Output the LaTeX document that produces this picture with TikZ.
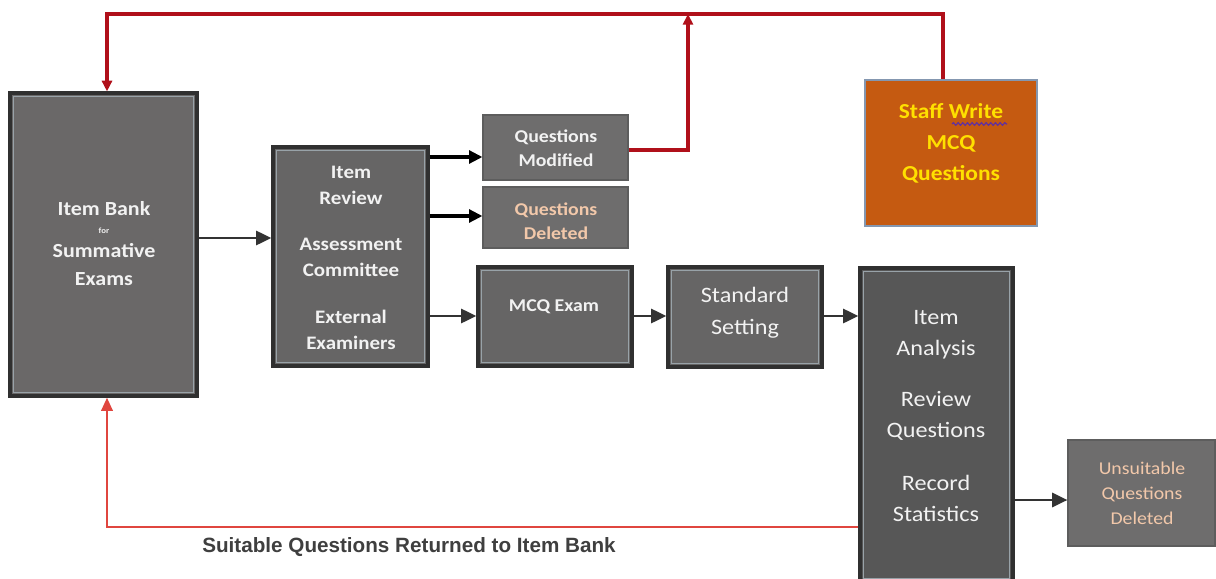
\documentclass[tikz,border=0pt]{standalone}
\usepackage{fontspec}
\setmainfont[FakeStretch=1.1]{Carlito}
\newfontfamily\arialb[BoldFont={Liberation Sans Bold}]{Liberation Sans}
\usetikzlibrary{arrows.meta,decorations.pathmorphing}
\definecolor{bdark}{HTML}{303030}
\definecolor{binner}{HTML}{98A2A8}
\definecolor{gfill}{HTML}{6A6868}
\definecolor{gfillb}{HTML}{666565}
\definecolor{gfilld}{HTML}{575757}
\definecolor{qfill}{HTML}{6E6D6D}
\definecolor{orangef}{HTML}{C55A11}
\definecolor{orangeb}{HTML}{8497B0}
\definecolor{ytext}{HTML}{FFE000}
\definecolor{wtext}{HTML}{F2F2F2}
\definecolor{ptext}{HTML}{F2C8AA}
\definecolor{redd}{HTML}{B0101A}
\definecolor{redl}{HTML}{E0463F}
\definecolor{arrg}{HTML}{333333}
\definecolor{labg}{HTML}{3F3F3F}
\definecolor{wavy}{HTML}{6030A0}
\newcommand\fsz[2]{\fontsize{#1}{#2}\selectfont}
\tikzset{
  gbox/.style={draw=bdark, line width=2.4pt, fill=#1, inner sep=0pt},
  qbox/.style={draw=qfill!85!black, line width=0.8pt, fill=qfill, inner sep=0pt},
  sbox/.style={draw=orangeb, line width=1.8pt, fill=orangef, inner sep=0pt},
  innerln/.style={draw=binner, line width=0.8pt},
  txt/.style={text=wtext, align=center, inner sep=0pt},
  blkarrow/.style={draw=black, line width=3pt, -{Triangle[length=10pt,width=9.5pt]}},
  gryarrow/.style={draw=arrg, line width=2.2pt, -{Triangle[length=11.5pt,width=10.5pt]}},
  redarrow/.style={draw=redd, line width=2.6pt, -{Triangle[length=8pt,width=7.5pt]}},
  lredarrow/.style={draw=redl, line width=2pt, -{Triangle[length=10pt,width=8.5pt]}},
}
\begin{document}
\begin{tikzpicture}[x=0.75pt,y=-0.75pt]
\useasboundingbox[fill=white] (0,0) rectangle (1216,578);
\begin{scope}
\clip (0,0) rectangle (1216,578);
% boxes
\node[gbox=gfill, minimum width=140.25pt, minimum height=227.25pt] (ib) at (103.5,244.5) {};
\node[gbox=gfillb, minimum width=116.25pt, minimum height=164.25pt] (ir) at (350.5,256.5) {};
\node[qbox, minimum width=108.75pt, minimum height=48.75pt] (qm) at (555.5,147.5) {};
\node[qbox, minimum width=108.75pt, minimum height=45.75pt] (qd) at (555.5,217.5) {};
\node[gbox=gfillb, minimum width=115.5pt, minimum height=74.25pt] (mcq) at (555,316.5) {};
\node[gbox=gfillb, minimum width=115.5pt, minimum height=75pt] (ss) at (745,317) {};
\node[gbox=gfilld, minimum width=114.75pt, minimum height=235.5pt] (ia) at (936.5,425) {};
\node[sbox, minimum width=129pt, minimum height=109.5pt] (sw) at (951,153) {};
\node[qbox, minimum width=110.25pt, minimum height=79.5pt] (us) at (1141.5,493) {};
\foreach \n in {ib,ir,mcq,ss,ia}
  \draw[innerln] ([xshift=3.8pt,yshift=-3.8pt]\n.north west) rectangle ([xshift=-3.8pt,yshift=3.8pt]\n.south east);
\end{scope}
% texts
\node[txt, font=\fsz{15}{18}\bfseries] (ibt1) at (104,209) {Item Bank};
\node[txt, font=\fsz{6}{7}\bfseries] (ibt2) at (104,231) {for};
\node[txt, font=\fsz{15}{18}\bfseries] (ibt3) at (104,251) {Summative};
\node[txt, font=\fsz{15}{18}\bfseries] (ibt4) at (104,279) {Exams};
\node[txt, font=\fsz{14.3}{19.5}\bfseries] (irt1) at (351,185) {Item\\Review};
\node[txt, font=\fsz{14.3}{19.5}\bfseries] (irt2) at (351,257) {Assessment\\Committee};
\node[txt, font=\fsz{14.3}{19.5}\bfseries] (irt3) at (351,330) {External\\Examiners};
\node[txt, font=\fsz{13.5}{18}\bfseries] (qmt) at (556,148) {Questions\\Modified};
\node[txt, text=ptext, font=\fsz{13.5}{18}\bfseries] (qdt) at (556,221) {Questions\\Deleted};
\node[txt, font=\fsz{13.5}{18}\bfseries] (mcqt) at (554,307) {MCQ Exam};
\node[txt, font=\fsz{16.5}{24}] (sst) at (745,313) {Standard\\Setting};
\node[txt, font=\fsz{16.5}{23.3}] (iat1) at (936,335) {Item\\Analysis};
\node[txt, font=\fsz{16.5}{23.3}] (iat2) at (936,416) {Review\\Questions};
\node[txt, font=\fsz{16.5}{23.3}] (iat3) at (936,498) {Record\\Statistics};
\node[txt, text=ytext, font=\fsz{16}{23.3}\bfseries] (swt) at (951,143) {Staff Write\\MCQ\\Questions};
\node[txt, text=ptext, font=\fsz{13.5}{18.75}] (ust) at (1142,493) {Unsuitable\\Questions\\Deleted};
\node[text=labg, inner sep=0pt, font=\arialb\fsz{15.5}{18}\bfseries] (lab) at (409,547) {Suitable Questions Returned to Item Bank};
% spell-check underline
\coordinate (wv1) at (952,124);
\coordinate (wv2) at (1007,124);
\draw[wavy, line width=0.9pt, decorate, decoration={snake, amplitude=1pt, segment length=3.5pt}] (wv1) -- (wv2);
% coordinates for connectors
\coordinate (tl) at (107,14);
\coordinate (tr) at (943,14);
\coordinate (tm) at (688,14);
\coordinate (qmk) at (688,150);
\coordinate (lb) at (107,527);
% black/gray arrows
\draw[gryarrow] (ib.east |- 0,238) -- (ir.west |- 0,238);
\draw[blkarrow] (ir.east |- 0,157) -- (qm.west |- 0,157);
\draw[blkarrow] (ir.east |- 0,216) -- (qd.west |- 0,216);
\draw[gryarrow] (ir.east |- 0,316) -- (mcq.west |- 0,316);
\draw[gryarrow] (mcq.east |- 0,316) -- (ss.west |- 0,316);
\draw[gryarrow] (ss.east |- 0,316) -- (ia.west |- 0,316);
\draw[gryarrow] (ia.east |- 0,500) -- (us.west |- 0,500);
% red connectors
\draw[redarrow] (sw.north -| tr) -- (tr) -- (tl) -- (ib.north -| tl);
\draw[redarrow] (qm.east |- qmk) -- (qmk) -- (tm);
\draw[lredarrow] (ia.west |- lb) -- (lb) -- (ib.south -| lb);
\end{tikzpicture}
\end{document}
